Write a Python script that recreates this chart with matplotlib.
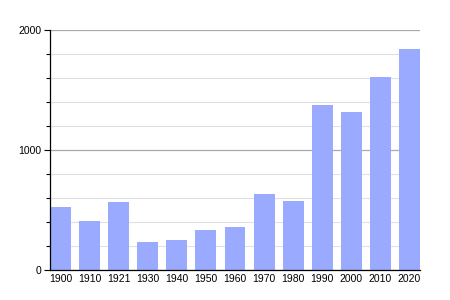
import matplotlib
matplotlib.use("Agg")
import matplotlib.pyplot as plt
from matplotlib.ticker import MultipleLocator

years = ["1900", "1910", "1921", "1930", "1940", "1950", "1960", "1970", "1980", "1990", "2000", "2010", "2020"]
population = [527, 408, 567, 233, 250, 333, 358, 633, 575, 1375, 1317, 1608, 1842]

plt.rcParams['font.family'] = ['Liberation Sans', 'DejaVu Sans']
fig = plt.figure(figsize=(4.5, 3), dpi=100)
ax = fig.add_axes([50/450, 30/300, 370/450, 240/300])

x = list(range(len(years)))
ax.bar(x, population, width=0.72, color='#99aaff', zorder=2)
ax.set_xlim(-0.36, len(years) - 1 + 0.36)
ax.set_ylim(0, 2000)
ax.set_xticks(x)
ax.set_xticklabels(years)
ax.yaxis.set_major_locator(MultipleLocator(1000))
ax.yaxis.set_minor_locator(MultipleLocator(200))
ax.grid(axis='y', which='major', color='#aaaaaa', linewidth=0.9, zorder=0)
ax.grid(axis='y', which='minor', color='#e0e0e0', linewidth=0.8, zorder=0)
for s in ['top', 'right']:
    ax.spines[s].set_visible(False)
ax.spines['left'].set_linewidth(0.9)
ax.spines['bottom'].set_linewidth(0.9)
ax.tick_params(axis='x', length=0, labelsize=7.5, pad=3)
ax.tick_params(axis='y', which='major', length=4, width=0.8, labelsize=7.5, pad=2)
ax.tick_params(axis='y', which='minor', length=3, width=0.8)
ax.set_axisbelow(True)
fig.savefig("out.png", dpi=100)
